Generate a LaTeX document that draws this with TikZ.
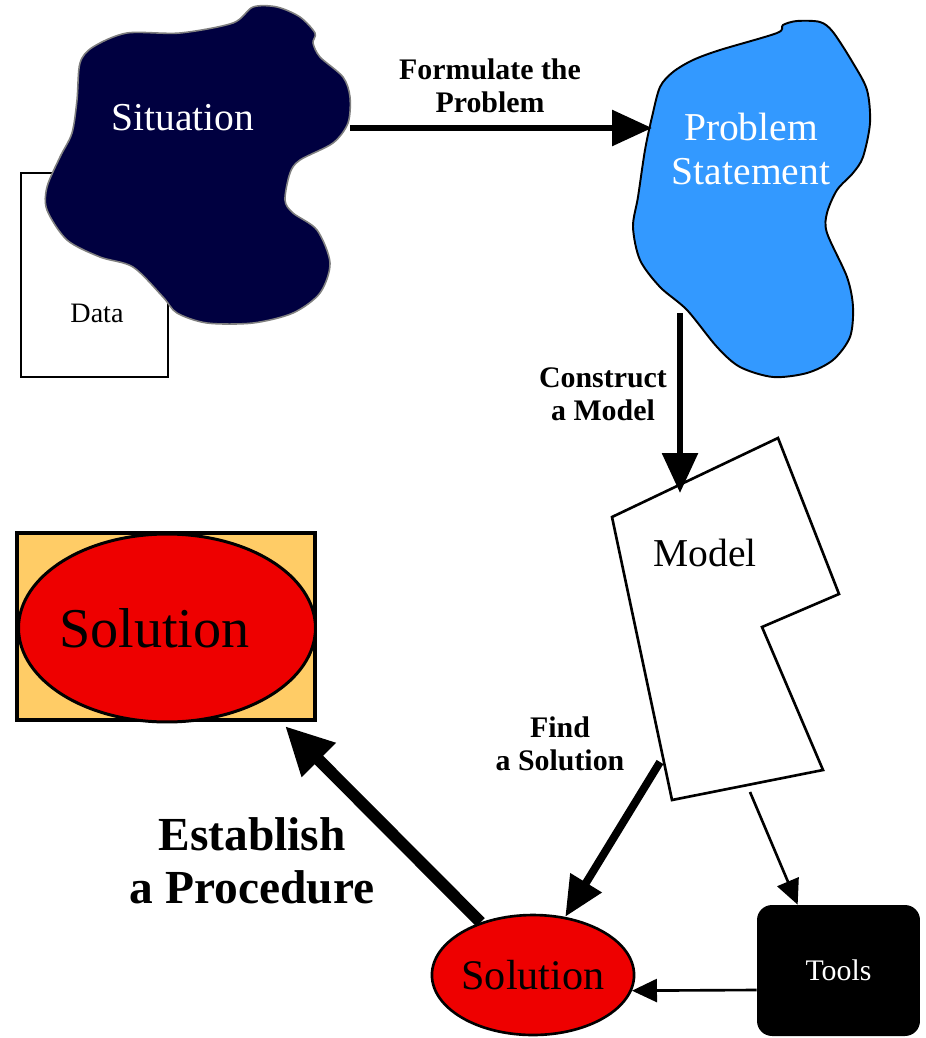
\documentclass[tikz,border=0pt]{standalone}
\usepackage{fontspec}
\setmainfont{Liberation Serif}
\usetikzlibrary{arrows.meta}
\usetikzlibrary{shapes.geometric}
\usetikzlibrary{positioning}
\definecolor{navyblob}{RGB}{0,0,64}
\definecolor{skyblob}{RGB}{51,153,255}
\definecolor{solred}{RGB}{238,0,0}
\definecolor{solorange}{RGB}{255,204,102}
\tikzset{%
  bigarrow/.style = {line width=3.4pt,-{Triangle[length=0.8cm,width=0.7cm]}},
  findarrow/.style = {line width=4.5pt,-{Triangle[length=0.8cm,width=0.7cm]}},
  hugearrow/.style = {line width=6.8pt,-{Triangle[length=0.96cm,width=0.9cm]}},
  thinarrow/.style = {line width=1.5pt,-{Triangle[length=0.5cm,width=0.46cm]}},
  arrowtext/.style = {font=\fontsize{17}{19}\selectfont\bfseries,align=center,
        inner sep=0pt},
  proctext/.style = {font=\fontsize{27}{30}\selectfont\bfseries,align=center,
        inner sep=0pt},
  blobtext/.style = {text=white,font=\fontsize{22.5}{25}\selectfont,align=center,
        inner sep=0pt},
  situationblob/.style = {fill=navyblob,draw=gray,line width=0.9pt},
  problemblob/.style = {fill=skyblob,draw=black,line width=1.1pt},
  modelshape/.style = {draw,fill=white,line width=1.5pt},
  databox/.style = {rectangle,draw,fill=white,line width=1.2pt,
        minimum width=2.94cm,minimum height=4.08cm},
  toolsbox/.style = {rectangle,rounded corners=0.3cm,fill=black,text=white,
        minimum width=3.26cm,minimum height=2.62cm,
        font=\fontsize{17}{19}\selectfont},
  solbox/.style = {rectangle,draw,fill=solorange,line width=2.3pt,
        minimum width=5.96cm,minimum height=3.74cm},
  solbig/.style = {ellipse,draw,fill=solred,line width=1.7pt,inner sep=0pt,
        minimum width=5.94cm,minimum height=3.76cm,
        font=\fontsize{32}{36}\selectfont},
  solsmall/.style = {ellipse,draw,fill=solred,line width=1.5pt,inner sep=0pt,
        minimum width=3.92cm,minimum height=2.4cm,
        font=\fontsize{24}{28}\selectfont}
}

\begin{document}
\begin{tikzpicture}[x=0.02cm,y=-0.02cm]
   \useasboundingbox (0,0) rectangle (926,1038);

   % situation with its data
   \node[databox] (data) at (94.5,275) {};
   \node[font=\fontsize{16}{18}\selectfont] (datalabel) at (97,313) {Data};
   \draw[situationblob] plot[smooth cycle,tension=0.5] coordinates {
      (80,63) (93,47) (127,33) (180,33) (233,23) (253,7) (277,7) (300,17)
      (315,33) (313,43) (320,57) (343,77) (350,97) (348,123) (333,143)
      (300,160) (290,173) (285,200) (293,213) (317,230) (330,263) (320,293)
      (293,313) (253,323) (207,323) (177,313) (163,297) (133,267) (100,257)
      (67,240) (47,210) (47,187) (60,157) (72,133) (77,100)};
   \node[blobtext] (situation) at (183,118) {Situation};

   % problem statement
   \draw[problemblob] plot[smooth cycle,tension=0.5] coordinates {
      (777,33) (783,25) (797,21) (820,22) (833,32) (853,63) (867,90)
      (870,123) (863,157) (853,173) (837,190) (827,213) (827,233) (847,277)
      (853,307) (850,337) (833,360) (807,373) (773,377) (740,367) (717,347)
      (687,310) (660,287) (640,260) (633,227) (638,197) (645,150) (652,117)
      (660,87) (673,72) (693,60) (720,50)};
   \node[blobtext] (problem) at (751,149) {Problem\\Statement};

   % model
   \draw[modelshape] (612,517) -- (778,438) -- (839,594) -- (762,627)
      -- (823,770) -- (672,800) -- cycle;
   \node[blobtext,text=black] (model) at (705,553) {Model};

   \node[toolsbox] (tools) at (838.5,970.5) {Tools};
   \node[solbox] (solframe) at (166,626.5) {};
   \node[solbig] (solution) at (167,628) {\kern-0.5cm Solution};
   \node[solsmall] (solbottom) at (533,975) {Solution};

   \coordinate (sitout) at (350,128);
   \coordinate (probin) at (652,128);
   \coordinate (probout) at (680,313);
   \coordinate (modelin) at (680,493);
   \coordinate (modelout) at (660,762);
   \coordinate (modeltools) at (750,792);
   \coordinate (proctip) at (285,726);

   \draw[bigarrow] (sitout) -- (probin);
   \draw[bigarrow] (probout) -- (modelin);
   \draw[findarrow] (modelout) -- (solbottom.61);
   \draw[thinarrow] (modeltools) -- ([xshift=0.82cm]tools.north west);
   \draw[thinarrow] ([yshift=-0.39cm]tools.west) -- (solbottom.-9);
   \draw[hugearrow] (solbottom) -- (proctip);

   \node[arrowtext] (formulate) at (490,86) {Formulate the\\Problem};
   \node[arrowtext] (construct) at (603,394) {Construct\\a Model};
   \node[arrowtext] (find) at (560,744) {Find\\a Solution};
   \node[proctext] (establish) at (252,861) {Establish\\a Procedure};
\end{tikzpicture}
\end{document}
